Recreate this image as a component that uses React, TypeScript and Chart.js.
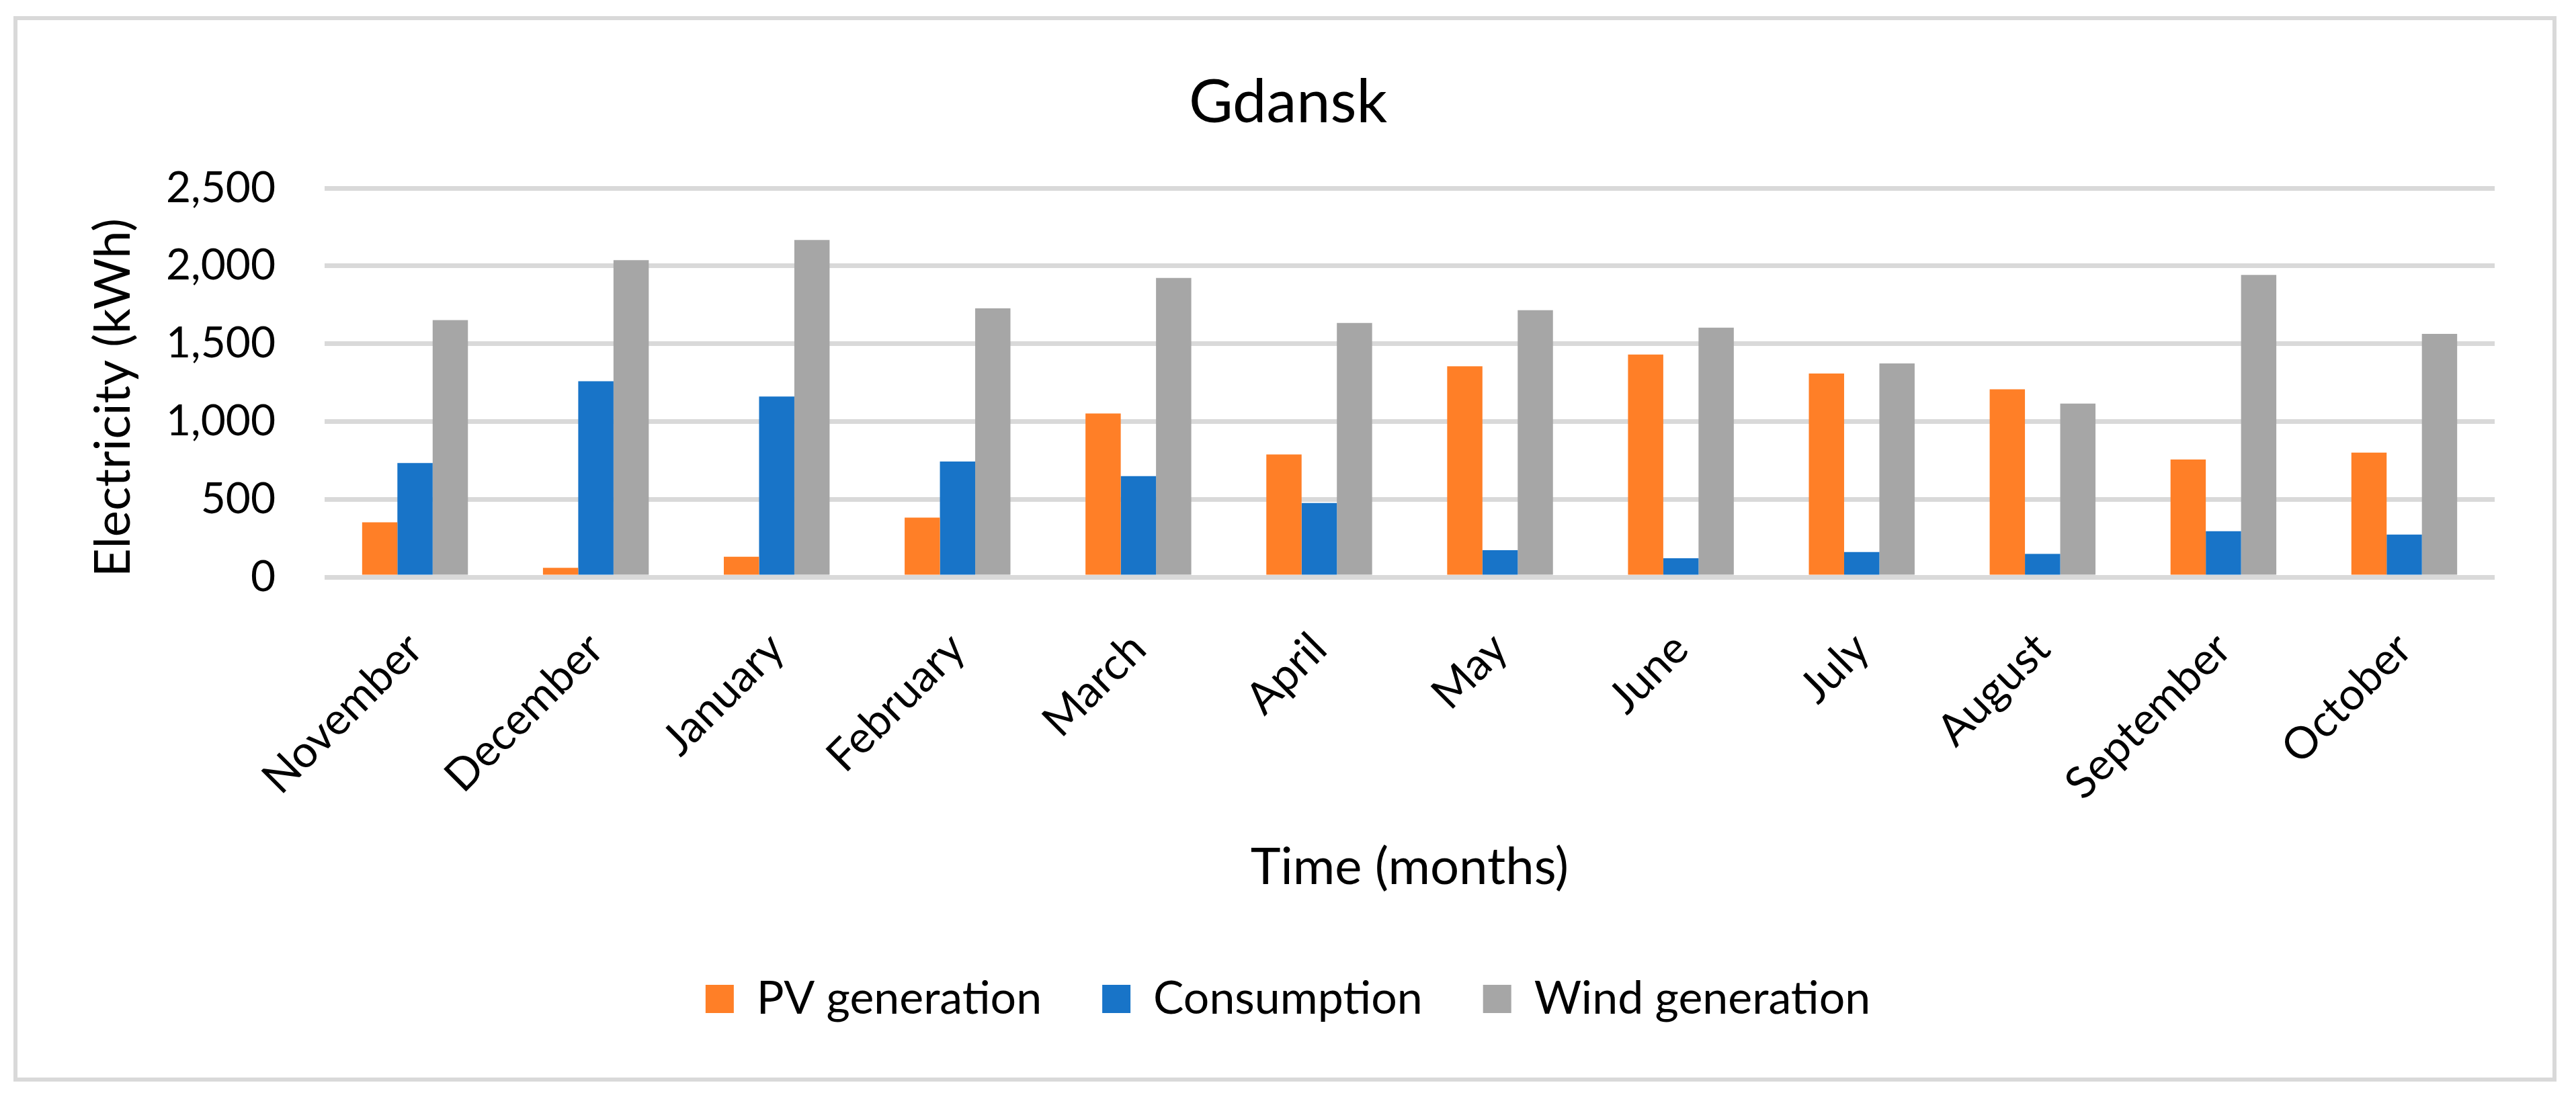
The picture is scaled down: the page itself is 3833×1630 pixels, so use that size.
import React, { useEffect, useRef } from "react";
import Chart from "chart.js/auto";

const months = [
  "November",
  "December",
  "January",
  "February",
  "March",
  "April",
  "May",
  "June",
  "July",
  "August",
  "September",
  "October",
];

const pvGeneration = [352, 59, 131, 382, 1051, 788, 1355, 1430, 1308, 1207, 756, 800];
const consumption = [733, 1259, 1160, 743, 649, 476, 173, 121, 161, 149, 295, 273];
const windGeneration = [1652, 2037, 2166, 1727, 1923, 1633, 1715, 1603, 1373, 1115, 1942, 1563];

const yTicks = [0, 500, 1000, 1500, 2000, 2500];

const App = () => {
  const chartRef = useRef<null | HTMLCanvasElement>(null);

  useEffect(() => {
    if (!chartRef.current) return;
    document.body.style.margin = "0";
    document.body.style.overflow = "hidden";

    Chart.defaults.font.family = "Lato";
    Chart.defaults.color = "#000000";

    const chartInstance = new Chart(chartRef.current, {
      type: "bar",
      data: {
        labels: months,
        datasets: [
          {
            label: "PV generation",
            data: pvGeneration,
            backgroundColor: "#FF7F27", // orange
            borderWidth: 0,
          },
          {
            label: "Consumption",
            data: consumption,
            backgroundColor: "#1874C8", // blue
            borderWidth: 0,
          },
          {
            label: "Wind generation",
            data: windGeneration,
            backgroundColor: "#A6A6A6", // grey
            borderWidth: 0,
          },
        ],
      },
      options: {
        animation: false,
        responsive: true,
        maintainAspectRatio: false,
        devicePixelRatio: 1,
        datasets: {
          bar: {
            categoryPercentage: 0.585,
            barPercentage: 1,
          },
        },
        layout: {
          // left and right equal so title and legend stay centred on the frame
          padding: { top: 0, left: 121, right: 121, bottom: 99 },
        },
        plugins: {
          title: {
            display: true,
            text: "Gdansk",
            font: { size: 90, weight: "normal" },
            padding: { top: 99, bottom: 73 },
          },
          legend: {
            position: "bottom",
            labels: {
              boxWidth: 42,
              boxHeight: 42,
              padding: 90,
              font: { size: 68 },
            },
          },
          tooltip: { enabled: false },
        },
        scales: {
          x: {
            grid: { display: false },
            border: { display: false },
            ticks: {
              autoSkip: false,
              minRotation: 45,
              maxRotation: 45,
              padding: 60,
              font: { size: 66 },
            },
            title: {
              display: true,
              text: "Time (months)",
              font: { size: 76 },
              padding: { top: 0, bottom: 26 },
            },
            afterFit: (scale: any) => {
              scale.height = 504;
            },
          },
          y: {
            min: 0,
            max: 2500,
            afterBuildTicks: (scale: any) => {
              scale.ticks = yTicks.map((v) => ({ value: v }));
            },
            grid: {
              color: "#D9D9D9",
              lineWidth: 7,
              drawTicks: false,
            },
            border: { display: false },
            ticks: {
              padding: 73,
              font: { size: 64 },
            },
            title: {
              display: true,
              text: "Electricity (kWh)",
              align: "start",
              font: { size: 74 },
              padding: { top: 4, bottom: 0 },
            },
            afterFit: (scale: any) => {
              scale.width = 362;
            },
          },
        },
      },
    });

    return () => {
      chartInstance.destroy();
    };
  }, []);

  return (
    <div
      style={{
        position: "absolute",
        left: 0,
        top: 0,
        width: "3833px",
        height: "1630px",
        background: "#ffffff",
      }}
    >
      <canvas ref={chartRef} />
      <div
        style={{
          position: "absolute",
          left: "20px",
          top: "24px",
          width: "3784px",
          height: "1586px",
          border: "6px solid #D9D9D9",
          boxSizing: "border-box",
          pointerEvents: "none",
        }}
      />
    </div>
  );
};

export default App;
